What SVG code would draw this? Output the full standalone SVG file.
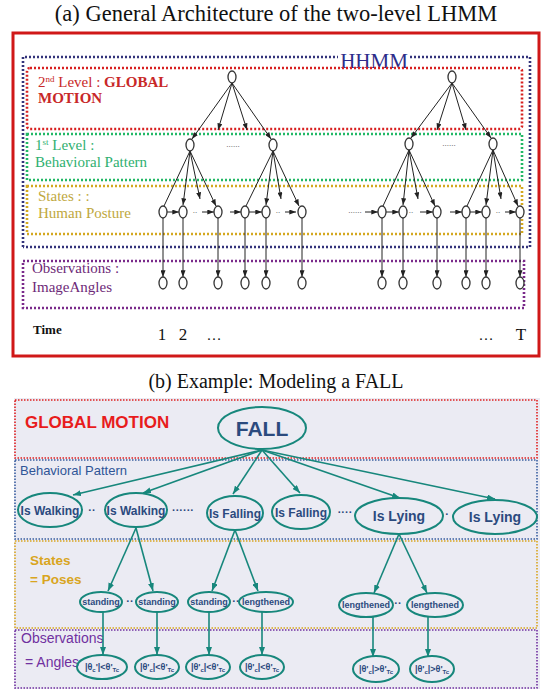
<svg xmlns="http://www.w3.org/2000/svg" width="544" height="689" viewBox="0 0 544 689">
<defs>
<marker id="ah" viewBox="0 0 8 6" refX="8" refY="3" markerWidth="7" markerHeight="5" orient="auto" markerUnits="userSpaceOnUse"><path d="M0,0 L8,3 L0,6z" fill="#222"/></marker>
<marker id="th" viewBox="0 0 8 6" refX="8" refY="3" markerWidth="8" markerHeight="6" orient="auto" markerUnits="userSpaceOnUse"><path d="M0,0 L8,3 L0,6z" fill="#17877c"/></marker>
<style>
.ttl{font-family:"Liberation Serif",serif;font-size:20px;fill:#111;text-anchor:middle}
.sf{font-family:"Liberation Serif",serif;font-size:15px}
.dot{fill:none;stroke-width:2.6;stroke-dasharray:2 2}
.n{fill:#fff;stroke:#333;stroke-width:1.3}
.e{stroke:#222;stroke-width:1;fill:none}
.ea{stroke:#222;stroke-width:1;fill:none;marker-end:url(#ah)}
.bd{fill:none;stroke-width:1.6;stroke-dasharray:1.5 1.5}
.bn{fill:none;stroke:#17877c;stroke-width:2}
.bt{font-family:"Liberation Sans",Arial,sans-serif;font-weight:bold;fill:#2b4a7e;text-anchor:middle}
.be{stroke:#17877c;stroke-width:1.6;fill:none;marker-end:url(#th)}
.ss{font-size:6px}
</style>
</defs>
<rect width="544" height="689" fill="#fff"/>

<!-- ============ (a) ============ -->
<text class="ttl" x="276" y="21" font-size="22.5" style="font-size:22.5px">(a) General Architecture of the two-level LHMM</text>
<rect x="13" y="33" width="526" height="323" fill="#fff" stroke="#d01818" stroke-width="3"/>

<g id="a-frames">
<path class="dot" stroke="#33337a" d="M23,247 V57 H338 M410,57 H530 V247 H23"/>
<text x="374" y="68" font-family="Liberation Serif,serif" font-size="21" fill="#2d2d8a" text-anchor="middle">HHMM</text>
<rect class="dot" stroke="#d82020" x="27" y="68" width="495" height="61" rx="3"/>
<rect class="dot" stroke="#22b866" x="27" y="134" width="495" height="46"/>
<rect class="dot" stroke="#d4a820" x="27" y="186" width="495" height="48"/>
<rect class="dot" stroke="#7a2a8a" x="23" y="261" width="501" height="47"/>
</g>

<g id="a-labels">
<text class="sf" x="38" y="87" fill="#c82828">2<tspan font-size="9" dy="-5">nd</tspan><tspan dy="5"> Level : </tspan><tspan font-weight="bold">GLOBAL</tspan></text>
<text class="sf" x="38" y="103" fill="#c82828" font-weight="bold">MOTION</text>
<text class="sf" x="35" y="150" fill="#2fb070">1<tspan font-size="9" dy="-5">st</tspan><tspan dy="5"> Level :</tspan></text>
<text class="sf" x="35" y="167" fill="#2fb070">Behavioral Pattern</text>
<text class="sf" x="38" y="201" fill="#c0a840">States : :</text>
<text class="sf" x="38" y="218" fill="#c0a840">Human Posture</text>
<text class="sf" x="32" y="273" fill="#6e2a78">Observations :</text>
<text class="sf" x="32" y="292" fill="#6e2a78">ImageAngles</text>
<text x="33" y="334" font-family="Liberation Serif,serif" font-size="13" font-weight="bold" fill="#111">Time</text>
<text x="162" y="340" font-family="Liberation Serif,serif" font-size="17" fill="#111" text-anchor="middle">1</text>
<text x="183" y="340" font-family="Liberation Serif,serif" font-size="17" fill="#111" text-anchor="middle">2</text>
<text x="214" y="340" font-family="Liberation Serif,serif" font-size="15" fill="#111" text-anchor="middle">…</text>
<text x="486" y="340" font-family="Liberation Serif,serif" font-size="15" fill="#111" text-anchor="middle">…</text>
<text x="521" y="340" font-family="Liberation Serif,serif" font-size="17" fill="#111" text-anchor="middle">T</text>
<text x="233" y="147" font-family="Liberation Serif,serif" font-size="9" fill="#555" text-anchor="middle">......</text>
<text x="449" y="146" font-family="Liberation Serif,serif" font-size="9" fill="#555" text-anchor="middle">......</text>
<text x="195" y="213" font-family="Liberation Serif,serif" font-size="9" fill="#555" text-anchor="middle">..</text>
<text x="278" y="213" font-family="Liberation Serif,serif" font-size="9" fill="#555" text-anchor="middle">..</text>
<text x="355" y="213" font-family="Liberation Serif,serif" font-size="9" fill="#555" text-anchor="middle">......</text>
<text x="411" y="213" font-family="Liberation Serif,serif" font-size="9" fill="#555" text-anchor="middle">..</text>
<text x="498" y="213" font-family="Liberation Serif,serif" font-size="9" fill="#555" text-anchor="middle">..</text>
</g>

<g id="a-connectors">
<line class="ea" x1="232" y1="83" x2="192" y2="139"/>
<line class="ea" x1="232" y1="83" x2="218" y2="130"/>
<line class="ea" x1="232" y1="83" x2="247" y2="130"/>
<line class="ea" x1="232" y1="83" x2="271" y2="139"/>
<line class="ea" x1="452" y1="83" x2="411" y2="138"/>
<line class="ea" x1="452" y1="83" x2="437" y2="130"/>
<line class="ea" x1="452" y1="83" x2="466" y2="130"/>
<line class="ea" x1="452" y1="83" x2="491" y2="138"/>
<line class="e" x1="190" y1="151" x2="164" y2="206"/>
<line class="ea" x1="190" y1="151" x2="183" y2="205"/>
<line class="ea" x1="190" y1="151" x2="200" y2="199"/>
<line class="ea" x1="190" y1="151" x2="216" y2="206"/>
<line class="e" x1="273" y1="151" x2="246" y2="206"/>
<line class="ea" x1="273" y1="151" x2="266" y2="205"/>
<line class="ea" x1="273" y1="151" x2="281" y2="199"/>
<line class="ea" x1="273" y1="151" x2="299" y2="206"/>
<line class="e" x1="409" y1="150" x2="383" y2="206"/>
<line class="ea" x1="409" y1="150" x2="403" y2="205"/>
<line class="ea" x1="409" y1="150" x2="418" y2="199"/>
<line class="ea" x1="409" y1="150" x2="435" y2="206"/>
<line class="e" x1="493" y1="150" x2="467" y2="206"/>
<line class="ea" x1="493" y1="150" x2="486" y2="205"/>
<line class="ea" x1="493" y1="150" x2="501" y2="199"/>
<line class="ea" x1="493" y1="150" x2="518" y2="206"/>
<line class="ea" x1="167" y1="212" x2="179" y2="212"/>
<line class="ea" x1="202" y1="212" x2="214" y2="212"/>
<line class="ea" x1="230" y1="212" x2="241" y2="212"/>
<line class="ea" x1="249" y1="212" x2="262" y2="212"/>
<line class="ea" x1="285" y1="212" x2="296" y2="212"/>
<line class="ea" x1="365" y1="212" x2="378" y2="212"/>
<line class="ea" x1="386" y1="212" x2="399" y2="212"/>
<line class="ea" x1="420" y1="212" x2="433" y2="212"/>
<line class="ea" x1="450" y1="212" x2="462" y2="212"/>
<line class="ea" x1="470" y1="212" x2="482" y2="212"/>
<line class="ea" x1="505" y1="212" x2="516" y2="212"/>
<line class="ea" x1="163" y1="218" x2="163" y2="277"/>
<line class="ea" x1="183" y1="218" x2="183" y2="277"/>
<line class="ea" x1="218" y1="218" x2="218" y2="277"/>
<line class="ea" x1="245" y1="218" x2="245" y2="277"/>
<line class="ea" x1="266" y1="218" x2="266" y2="277"/>
<line class="ea" x1="302" y1="218" x2="302" y2="277"/>
<line class="ea" x1="382" y1="218" x2="382" y2="277"/>
<line class="ea" x1="403" y1="218" x2="403" y2="277"/>
<line class="ea" x1="437" y1="218" x2="437" y2="277"/>
<line class="ea" x1="466" y1="218" x2="466" y2="277"/>
<line class="ea" x1="486" y1="218" x2="486" y2="277"/>
<line class="ea" x1="520" y1="218" x2="520" y2="277"/>
</g>

<g id="a-root1"><ellipse class="n" cx="232" cy="77" rx="4" ry="6"/></g>
<g id="a-root2"><ellipse class="n" cx="452" cy="77" rx="4" ry="6"/></g>
<g id="a-l1-1"><ellipse class="n" cx="190" cy="145" rx="4" ry="6"/></g>
<g id="a-l1-2"><ellipse class="n" cx="273" cy="145" rx="4" ry="6"/></g>
<g id="a-l1-3"><ellipse class="n" cx="409" cy="144" rx="4" ry="6"/></g>
<g id="a-l1-4"><ellipse class="n" cx="493" cy="144" rx="4" ry="6"/></g>
<g id="a-s1"><ellipse class="n" cx="163" cy="212" rx="4" ry="6"/></g>
<g id="a-s2"><ellipse class="n" cx="183" cy="212" rx="4" ry="6"/></g>
<g id="a-s3"><ellipse class="n" cx="218" cy="212" rx="4" ry="6"/></g>
<g id="a-s4"><ellipse class="n" cx="245" cy="212" rx="4" ry="6"/></g>
<g id="a-s5"><ellipse class="n" cx="266" cy="212" rx="4" ry="6"/></g>
<g id="a-s6"><ellipse class="n" cx="302" cy="212" rx="4" ry="6"/></g>
<g id="a-s7"><ellipse class="n" cx="382" cy="212" rx="4" ry="6"/></g>
<g id="a-s8"><ellipse class="n" cx="403" cy="212" rx="4" ry="6"/></g>
<g id="a-s9"><ellipse class="n" cx="437" cy="212" rx="4" ry="6"/></g>
<g id="a-s10"><ellipse class="n" cx="466" cy="212" rx="4" ry="6"/></g>
<g id="a-s11"><ellipse class="n" cx="486" cy="212" rx="4" ry="6"/></g>
<g id="a-s12"><ellipse class="n" cx="520" cy="212" rx="4" ry="6"/></g>
<g id="a-o1"><ellipse class="n" cx="163" cy="283" rx="4" ry="6"/></g>
<g id="a-o2"><ellipse class="n" cx="183" cy="283" rx="4" ry="6"/></g>
<g id="a-o3"><ellipse class="n" cx="218" cy="283" rx="4" ry="6"/></g>
<g id="a-o4"><ellipse class="n" cx="245" cy="283" rx="4" ry="6"/></g>
<g id="a-o5"><ellipse class="n" cx="266" cy="283" rx="4" ry="6"/></g>
<g id="a-o6"><ellipse class="n" cx="302" cy="283" rx="4" ry="6"/></g>
<g id="a-o7"><ellipse class="n" cx="382" cy="283" rx="4" ry="6"/></g>
<g id="a-o8"><ellipse class="n" cx="403" cy="283" rx="4" ry="6"/></g>
<g id="a-o9"><ellipse class="n" cx="437" cy="283" rx="4" ry="6"/></g>
<g id="a-o10"><ellipse class="n" cx="466" cy="283" rx="4" ry="6"/></g>
<g id="a-o11"><ellipse class="n" cx="486" cy="283" rx="4" ry="6"/></g>
<g id="a-o12"><ellipse class="n" cx="520" cy="283" rx="4" ry="6"/></g>

<!-- ============ (b) ============ -->
<text class="ttl" x="276" y="388">(b) Example: Modeling a FALL</text>
<rect x="14" y="398" width="526" height="291" fill="#ebebf3"/>

<g id="b-frames">
<rect class="bd" stroke="#e02020" x="15" y="400" width="522" height="58"/>
<rect class="bd" stroke="#3a5fa0" x="15" y="460" width="522" height="79"/>
<rect class="bd" stroke="#d9a520" x="15" y="541" width="522" height="87"/>
<rect class="bd" stroke="#7030a0" x="15" y="630" width="522" height="58"/>
</g>

<g id="b-labels" font-family="Liberation Sans,Arial,sans-serif">
<text x="25" y="428" font-size="17" font-weight="bold" fill="#e81c1c">GLOBAL MOTION</text>
<text x="20" y="475" font-size="13" fill="#2f5597">Behavioral Pattern</text>
<text x="30" y="565" font-size="13.5" font-weight="bold" fill="#d9a520">States</text>
<text x="30" y="584" font-size="13.5" font-weight="bold" fill="#d9a520">= Poses</text>
<text x="21" y="643" font-size="14" fill="#7030a0">Observations</text>
<text x="25" y="667" font-size="14" fill="#7030a0">= Angles</text>
<g fill="#2b4a7e" font-weight="bold" font-size="11" text-anchor="middle">
<text x="92" y="514">··</text>
<text x="183" y="514">······</text>
<text x="345" y="516">····</text>
<text x="447" y="518">·</text>
<text x="130" y="605">··</text>
<text x="236" y="605">··</text>
<text x="398" y="607">··</text>
</g>
</g>

<g id="b-connectors">
<line class="be" x1="262" y1="450" x2="73" y2="495"/>
<line class="be" x1="262" y1="450" x2="143" y2="493"/>
<line class="be" x1="262" y1="450" x2="233" y2="494"/>
<line class="be" x1="262" y1="450" x2="300" y2="493"/>
<line class="be" x1="262" y1="450" x2="400" y2="498"/>
<line class="be" x1="262" y1="450" x2="495" y2="499"/>
<line class="be" x1="136" y1="528" x2="108" y2="591"/>
<line class="be" x1="136" y1="528" x2="153" y2="591"/>
<line class="be" x1="235" y1="530" x2="212" y2="591"/>
<line class="be" x1="235" y1="530" x2="258" y2="591"/>
<line class="be" x1="399" y1="534" x2="374" y2="593"/>
<line class="be" x1="399" y1="534" x2="427" y2="593"/>
<line class="be" x1="103" y1="612" x2="103" y2="655"/>
<line class="be" x1="157" y1="612" x2="157" y2="655"/>
<line class="be" x1="209" y1="612" x2="209" y2="655"/>
<line class="be" x1="262" y1="612" x2="262" y2="655"/>
<line class="be" x1="373" y1="617" x2="373" y2="657"/>
<line class="be" x1="428" y1="617" x2="428" y2="657"/>
</g>

<g id="b-fall"><ellipse class="bn" cx="262" cy="428" rx="44" ry="21"/><text class="bt" x="262" y="436" font-size="21">FALL</text></g>
<g id="b-walk1"><ellipse class="bn" cx="50" cy="510" rx="32" ry="17"/><text class="bt" x="50" y="515" font-size="12">Is Walking</text></g>
<g id="b-walk2"><ellipse class="bn" cx="136" cy="510" rx="31" ry="17"/><text class="bt" x="136" y="515" font-size="12">Is Walking</text></g>
<g id="b-fall1"><ellipse class="bn" cx="235" cy="513" rx="28" ry="17"/><text class="bt" x="235" y="518" font-size="12">Is Falling</text></g>
<g id="b-fall2"><ellipse class="bn" cx="301" cy="512" rx="29" ry="17"/><text class="bt" x="301" y="517" font-size="12">Is Falling</text></g>
<g id="b-lying1"><ellipse class="bn" cx="399" cy="516" rx="44" ry="18"/><text class="bt" x="399" y="521" font-size="14">Is Lying</text></g>
<g id="b-lying2"><ellipse class="bn" cx="495" cy="517" rx="42" ry="17"/><text class="bt" x="495" y="522" font-size="14">Is Lying</text></g>

<g id="b-stand1"><ellipse class="bn" cx="101" cy="602" rx="21" ry="10"/><text class="bt" x="101" y="605" font-size="9">standing</text></g>
<g id="b-stand2"><ellipse class="bn" cx="157" cy="602" rx="21" ry="10"/><text class="bt" x="157" y="605" font-size="9">standing</text></g>
<g id="b-stand3"><ellipse class="bn" cx="209" cy="602" rx="21" ry="10"/><text class="bt" x="209" y="605" font-size="9">standing</text></g>
<g id="b-len1"><ellipse class="bn" cx="266" cy="602" rx="27" ry="10"/><text class="bt" x="266" y="605" font-size="9">lengthened</text></g>
<g id="b-len2"><ellipse class="bn" cx="366" cy="605" rx="27" ry="12"/><text class="bt" x="366" y="608" font-size="9">lengthened</text></g>
<g id="b-len3"><ellipse class="bn" cx="435" cy="605" rx="28" ry="12"/><text class="bt" x="435" y="608" font-size="9">lengthened</text></g>

<g id="b-obs1"><ellipse class="bn" cx="102" cy="667" rx="25" ry="12"/><text class="bt" x="102" y="670" font-size="9">|θ<tspan class="ss" dy="2">c</tspan><tspan dy="-2">'|&lt;θ'</tspan><tspan class="ss" dy="2">Tc</tspan></text></g>
<g id="b-obs2"><ellipse class="bn" cx="157" cy="667" rx="22" ry="12"/><text class="bt" x="157" y="670" font-size="9">|θ'<tspan class="ss" dy="2">c</tspan><tspan dy="-2">|&lt;θ'</tspan><tspan class="ss" dy="2">Tc</tspan></text></g>
<g id="b-obs3"><ellipse class="bn" cx="208" cy="667" rx="22" ry="12"/><text class="bt" x="208" y="670" font-size="9">|θ'<tspan class="ss" dy="2">c</tspan><tspan dy="-2">|&lt;θ'</tspan><tspan class="ss" dy="2">Tc</tspan></text></g>
<g id="b-obs4"><ellipse class="bn" cx="262" cy="667" rx="22" ry="12"/><text class="bt" x="262" y="670" font-size="9">|θ'<tspan class="ss" dy="2">c</tspan><tspan dy="-2">|&lt;θ'</tspan><tspan class="ss" dy="2">Tc</tspan></text></g>
<g id="b-obs5"><ellipse class="bn" cx="376" cy="669" rx="23" ry="13"/><text class="bt" x="376" y="672" font-size="9">|θ'<tspan class="ss" dy="2">c</tspan><tspan dy="-2">|&gt;θ'</tspan><tspan class="ss" dy="2">Tc</tspan></text></g>
<g id="b-obs6"><ellipse class="bn" cx="432" cy="669" rx="22" ry="13"/><text class="bt" x="432" y="672" font-size="9">|θ'<tspan class="ss" dy="2">c</tspan><tspan dy="-2">|&gt;θ'</tspan><tspan class="ss" dy="2">Tc</tspan></text></g>
</svg>
